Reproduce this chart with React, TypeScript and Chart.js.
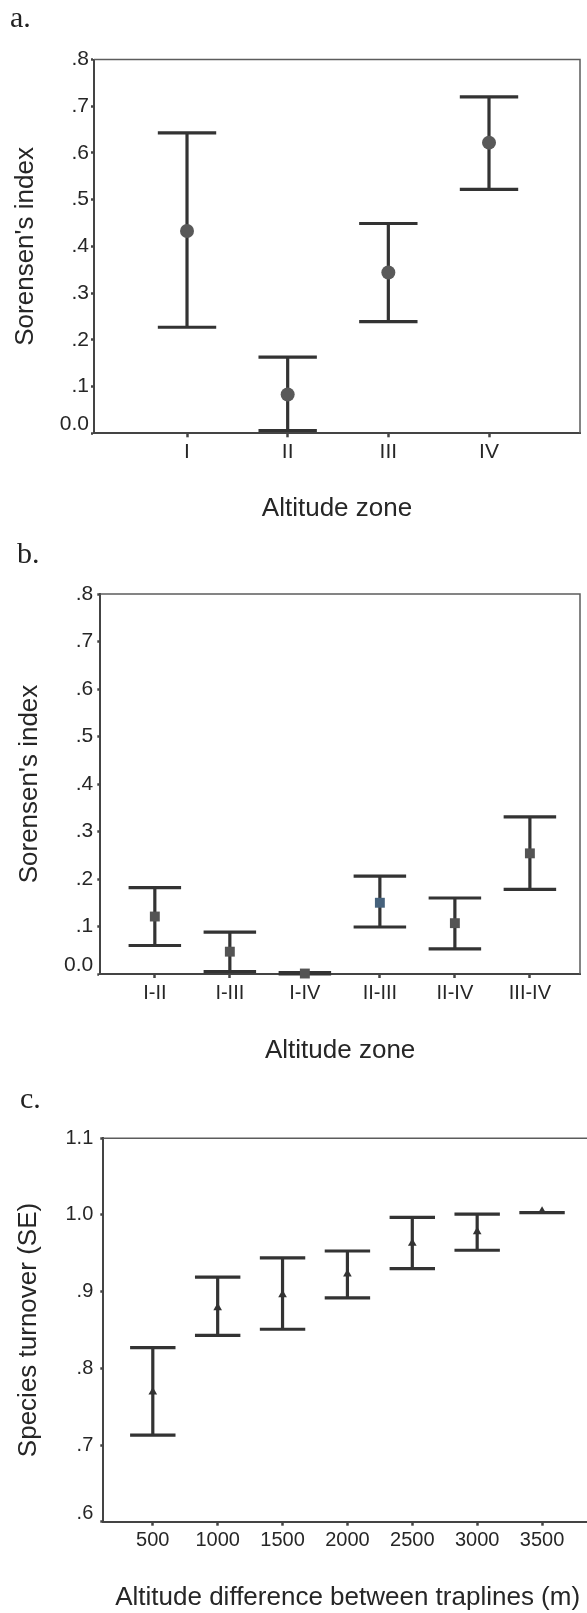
import React, { useEffect, useRef } from 'react';
import { Chart, registerables } from 'chart.js';

Chart.register(...registerables);

// ---------- Data ----------
const categoriesA = ['I', 'II', 'III', 'IV'];
const meanA = [0.433, 0.083, 0.344, 0.622];
const lowerA = [0.227, 0.006, 0.239, 0.522];
const upperA = [0.643, 0.163, 0.449, 0.72];

const categoriesB = ['I-II', 'I-III', 'I-IV', 'II-III', 'II-IV', 'III-IV'];
const meanB = [0.121, 0.047, 0.001, 0.15, 0.107, 0.254];
const lowerB = [0.06, 0.005, 0.0, 0.099, 0.053, 0.178];
const upperB = [0.182, 0.088, 0.003, 0.206, 0.16, 0.331];

const categoriesC = ['500', '1000', '1500', '2000', '2500', '3000', '3500'];
const meanC = [0.769, 0.879, 0.896, 0.923, 0.963, 0.978, 1.005];
const lowerC = [0.713, 0.843, 0.851, 0.892, 0.93, 0.954, 1.003];
const upperC = [0.827, 0.919, 0.944, 0.953, 0.997, 1.001, 1.003];

const yTicksAB = { min: 0, max: 0.8, step: 0.1 };
const yTicksC = { min: 0.6, max: 1.1, step: 0.1 };

// ---------- Styles ----------
const SANS = '"Liberation Sans", Arial, Helvetica, sans-serif';
const NARROW = '"Liberation Sans Narrow", "Liberation Sans", Arial, sans-serif';
const SERIF = '"Liberation Serif", "Times New Roman", serif';
const TEXT = '#262626';
const AXIS = '#444444';
const BAR = '#333333';

function errorBarPoints(lower: number[], upper: number[], half: number) {
  const pts: { x: number; y: number | null }[] = [];
  lower.forEach((lo, i) => {
    const x = i + 1;
    const hi = upper[i];
    pts.push({ x: x - half, y: hi }, { x: x + half, y: hi }, { x, y: null });
    pts.push({ x, y: hi }, { x, y: lo }, { x, y: null });
    pts.push({ x: x - half, y: lo }, { x: x + half, y: lo }, { x, y: null });
  });
  return pts;
}

function fmtY(v: number) {
  if (Math.abs(v) < 1e-9) return '0.0';
  if (v < 1) return '.' + Math.round(v * 10);
  return v.toFixed(1);
}

const framePlugin = {
  id: 'frame',
  afterDraw(chart: any) {
    const { ctx, chartArea } = chart;
    const { left, right, top, bottom } = chartArea;
    ctx.save();
    ctx.strokeStyle = '#5c5c5c';
    ctx.lineWidth = 1.5;
    ctx.beginPath();
    ctx.moveTo(left, top);
    ctx.lineTo(right, top);
    ctx.lineTo(right, bottom);
    ctx.stroke();
    ctx.restore();
  },
};

type Spec = {
  top: number;
  width: number;
  height: number;
  area: { left: number; top: number; right: number; bottom: number };
  categories: string[];
  means: number[];
  lower: number[];
  upper: number[];
  xMin: number;
  xMax: number;
  capHalf: number;
  yTicks: { min: number; max: number; step: number };
  xTitle: string;
  yTitle: string;
  xTitlePad: number;
  yTitlePad: number;
  xTickFont: { family: string; size: number };
  yTickFont: number;
  xTickPad: number;
  yTickPad: number;
  pointStyle: string;
  pointRadius: number;
  pointColors: string[];
};

function Panel({ spec }: { spec: Spec }) {
  const ref = useRef<HTMLCanvasElement>(null);
  useEffect(() => {
    const s = spec;
    const chart = new Chart(ref.current as HTMLCanvasElement, {
      type: 'scatter',
      data: {
        datasets: [
          {
            data: s.means.map((m, i) => ({ x: i + 1, y: m })),
            pointStyle: s.pointStyle as any,
            pointRadius: s.pointRadius,
            pointBackgroundColor: s.pointColors,
            pointBorderColor: s.pointColors,
            pointBorderWidth: 0,
            showLine: false,
            clip: false as any,
          },
          {
            data: errorBarPoints(s.lower, s.upper, s.capHalf) as any,
            showLine: true,
            spanGaps: false,
            pointRadius: 0,
            borderColor: BAR,
            borderWidth: 3.2,
            borderCapStyle: 'butt',
            clip: false as any,
          },
        ],
      },
      options: {
        responsive: false,
        animation: false,
        events: [],
        layout: {
          padding: {
            left: 0,
            top: s.area.top,
            right: s.width - s.area.right,
            bottom: 0,
          },
        },
        plugins: {
          legend: { display: false },
          tooltip: { enabled: false },
        },
        scales: {
          x: {
            type: 'linear',
            min: s.xMin,
            max: s.xMax,
            afterFit: (sc: any) => {
              sc.height = s.height - s.area.bottom;
            },
            ticks: {
              stepSize: 1,
              includeBounds: false,
              autoSkip: false,
              maxRotation: 0,
              padding: s.xTickPad,
              color: TEXT,
              font: { family: s.xTickFont.family, size: s.xTickFont.size, lineHeight: 1.2 },
              callback: (v: any) => {
                const n = Number(v);
                return Number.isInteger(n) && s.categories[n - 1] ? s.categories[n - 1] : '';
              },
            },
            grid: {
              display: true,
              drawOnChartArea: false,
              drawTicks: true,
              tickLength: 4,
              tickWidth: 2.5,
              tickColor: AXIS,
            },
            border: { display: true, color: AXIS, width: 2 },
            title: {
              display: true,
              text: s.xTitle,
              color: TEXT,
              font: { family: SANS, size: 26, lineHeight: 1.2 },
              padding: { top: 0, bottom: s.xTitlePad },
            },
          },
          y: {
            type: 'linear',
            min: s.yTicks.min,
            max: s.yTicks.max,
            afterFit: (sc: any) => {
              sc.width = s.area.left;
            },
            ticks: {
              stepSize: s.yTicks.step,
              autoSkip: false,
              padding: s.yTickPad,
              color: TEXT,
              font: { family: SANS, size: s.yTickFont, lineHeight: 0.82 },
              callback: (v: any, i: number) => {
                const label = fmtY(Number(v));
                return i === 0 ? [label, ''] : label;
              },
            },
            grid: {
              display: true,
              drawOnChartArea: false,
              drawTicks: true,
              tickLength: 3,
              tickWidth: 2.5,
              tickColor: AXIS,
            },
            border: { display: true, color: AXIS, width: 2 },
            title: {
              display: true,
              text: s.yTitle,
              color: TEXT,
              font: { family: SANS, size: 26, lineHeight: 1.2 },
              padding: { top: s.yTitlePad, bottom: 0 },
            },
          },
        },
      },
      plugins: [framePlugin],
    } as any);
    return () => chart.destroy();
  }, [spec]);
  return (
    <canvas
      ref={ref}
      width={spec.width}
      height={spec.height}
      style={{
        position: 'absolute',
        left: 0,
        top: spec.top,
        width: spec.width,
        height: spec.height,
        display: 'block',
      }}
    />
  );
}

const specA: Spec = {
  top: 0,
  width: 587,
  height: 530,
  area: { left: 94, top: 59.5, right: 580, bottom: 433.3 },
  categories: categoriesA,
  means: meanA,
  lower: lowerA,
  upper: upperA,
  xMin: 0.076,
  xMax: 4.904,
  capHalf: 0.29,
  yTicks: yTicksAB,
  xTitle: 'Altitude zone',
  yTitle: "Sorensen's index",
  xTitlePad: 6,
  yTitlePad: 10,
  xTickFont: { family: NARROW, size: 21 },
  yTickFont: 21,
  xTickPad: 2,
  yTickPad: 2,
  pointStyle: 'circle',
  pointRadius: 7,
  pointColors: ['#595959', '#595959', '#595959', '#595959'],
};

const specB: Spec = {
  top: 530,
  width: 587,
  height: 540,
  area: { left: 100.3, top: 64, right: 585.3, bottom: 444 },
  categories: categoriesB,
  means: meanB,
  lower: lowerB,
  upper: upperB,
  xMin: 0.273,
  xMax: 6.668,
  capHalf: 0.35,
  yTicks: yTicksAB,
  xTitle: 'Altitude zone',
  yTitle: "Sorensen's index",
  xTitlePad: 4,
  yTitlePad: 14,
  xTickFont: { family: NARROW, size: 20 },
  yTickFont: 21,
  xTickPad: 3,
  yTickPad: 4,
  pointStyle: 'rect',
  pointRadius: 7,
  pointColors: ['#545454', '#545454', '#545454', '#46627c', '#545454', '#545454'],
};

const specC: Spec = {
  top: 1070,
  width: 600,
  height: 543,
  area: { left: 103.3, top: 68.3, right: 592, bottom: 451.7 },
  categories: categoriesC,
  means: meanC,
  lower: lowerC,
  upper: upperC,
  xMin: 0.237,
  xMax: 7.77,
  capHalf: 0.35,
  yTicks: yTicksC,
  xTitle: 'Altitude difference between traplines (m)',
  yTitle: 'Species turnover (SE)',
  xTitlePad: 0,
  yTitlePad: 13,
  xTickFont: { family: SANS, size: 20 },
  yTickFont: 20,
  xTickPad: 2.5,
  yTickPad: 7,
  pointStyle: 'triangle',
  pointRadius: 5,
  pointColors: ['#333', '#333', '#333', '#333', '#333', '#333', '#333'],
};

const letterStyle = (left: number, top: number): React.CSSProperties => ({
  position: 'absolute',
  left,
  top,
  font: `30px ${SERIF}`,
  lineHeight: '30px',
  color: '#222',
  margin: 0,
});

export default function App() {
  return (
    <div
      style={{
        position: 'absolute',
        left: 0,
        top: 0,
        width: 587,
        height: 1613,
        overflow: 'hidden',
        background: '#ffffff',
      }}
    >
      <Panel spec={specA} />
      <Panel spec={specB} />
      <Panel spec={specC} />
      <div style={letterStyle(10, 2)}>a.</div>
      <div style={letterStyle(17, 538)}>b.</div>
      <div style={letterStyle(20, 1083)}>c.</div>
    </div>
  );
}
